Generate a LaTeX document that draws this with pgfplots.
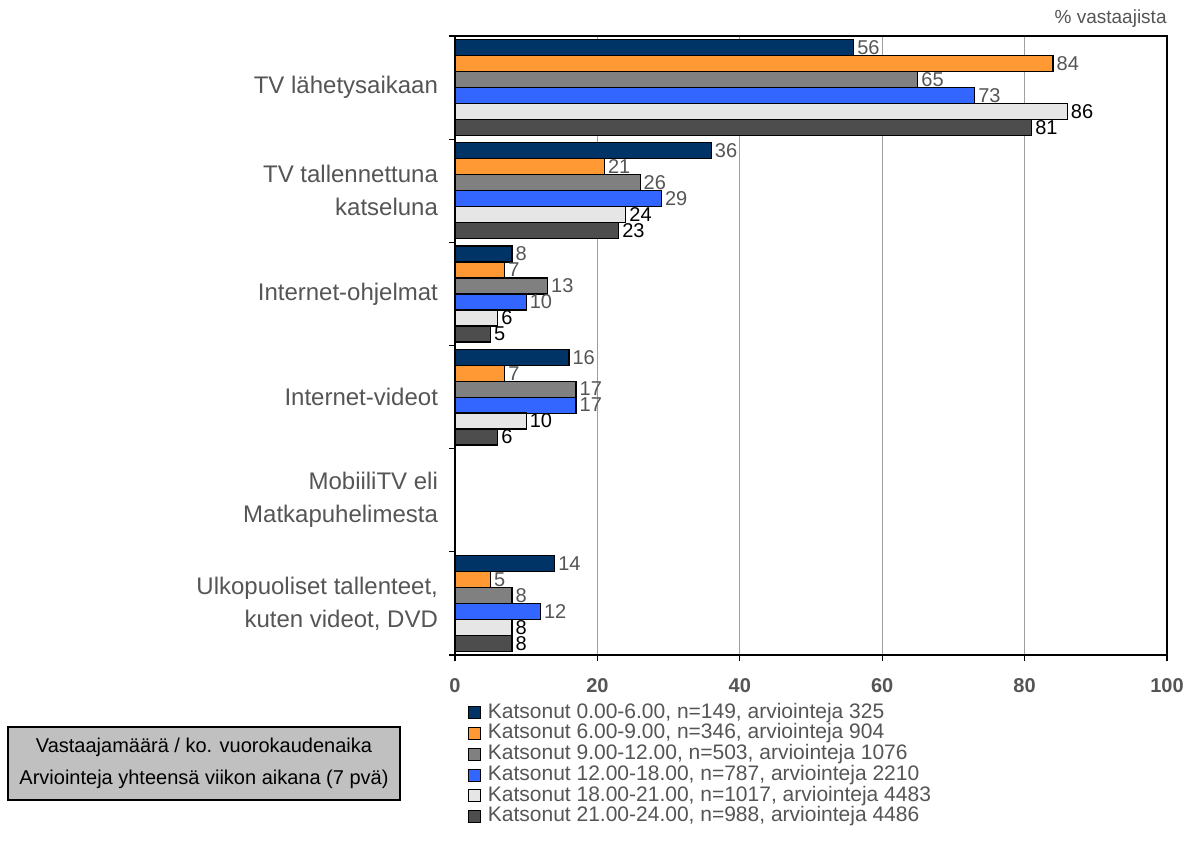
\documentclass[border=0pt]{standalone}
\usepackage{fontspec}
\setmainfont{Liberation Sans}
\usepackage{pgfplots}
\usepackage{pgfplotstable}
\pgfplotsset{compat=1.18}

\definecolor{cNavy}{HTML}{003366}
\definecolor{cOrange}{HTML}{FF9933}
\definecolor{cGray}{HTML}{808080}
\definecolor{cBlue}{HTML}{3366FF}
\definecolor{cLight}{HTML}{E6E6E6}
\definecolor{cDark}{HTML}{4D4D4D}
\definecolor{txt}{HTML}{555555}
\definecolor{boxfill}{HTML}{C0C0C0}

% cat = category row from the top (4 = MobiiliTV, no bars)
\pgfplotstableread{
cat s1 s2 s3 s4 s5 s6
0   56 84 65 73 86 81
1   36 21 26 29 24 23
2   8  7  13 10 6  5
3   16 7  17 17 10 6
5   14 5  8  12 8  8
}\tvdata

\begin{document}
\begin{tikzpicture}
\useasboundingbox (0,0) rectangle (601pt,421.5pt);
\begin{axis}[
  name=ax,
  at={(227.5pt,94pt)}, anchor=south west,
  scale only axis, width=356pt, height=309.5pt,
  xbar, bar width=8pt, bar shift=0pt,
  xmin=0, xmax=100, ymin=-0.5, ymax=5.5, y dir=reverse,
  xtick={0,20,...,100},
  ytick={-0.5,0.5,...,5.5}, yticklabels={},
  extra y ticks={0,1,2,3,4,5},
  extra y tick labels={TV lähetysaikaan, {TV tallennettuna\\katseluna}, Internet-ohjelmat, Internet-videot, {MobiiliTV eli\\Matkapuhelimesta}, {Ulkopuoliset tallenteet,\\kuten videot, DVD}},
  extra y tick style={major tick length=0pt, grid=none},
  yticklabel style={align=right, text=txt, font=\fontsize{12}{16.5}\selectfont, xshift=-5pt},
  xticklabel style={font=\bfseries\fontsize{10}{12}\selectfont, text=txt, yshift=-5pt},
  /pgf/number format/assume math mode=true,
  xtick pos=bottom, ytick pos=left,
  tick align=outside, major tick length=3pt,
  tick style={black, line width=0.6pt},
  xmajorgrids, grid style={color=gray!75, line width=0.6pt},
  axis line style={black, line width=0.8pt},
  point meta=x,
  nodes near coords,
  nodes near coords style={font=\fontsize{10}{12}\selectfont, text=txt, inner sep=1.5pt, anchor=west},
  legend style={at={(0.017,-0.077)}, anchor=north west, draw=none, fill=none, inner sep=0pt,
    font=\fontsize{10.5}{12}\selectfont, text=txt,
    nodes={inner ysep=0pt, inner xsep=1.2pt, text height=7.6pt, text depth=2.25pt},
    row sep=0.5pt, cells={anchor=west}},
  legend image code/.code={\draw[#1, draw=black, line width=0.5pt] (0pt,-3pt) rectangle (6pt,3pt);},
  every axis plot/.append style={draw=black, line width=0.6pt},
]
\addplot[fill=cNavy] table[x=s1, y expr=\thisrow{cat}-0.3875] \tvdata;
\addplot[fill=cOrange] table[x=s2, y expr=\thisrow{cat}-0.2325] \tvdata;
\addplot[fill=cGray] table[x=s3, y expr=\thisrow{cat}-0.0775] \tvdata;
\addplot[fill=cBlue] table[x=s4, y expr=\thisrow{cat}+0.0775] \tvdata;
\addplot[fill=cLight, nodes near coords style={text=black}] table[x=s5, y expr=\thisrow{cat}+0.2325] \tvdata;
\addplot[fill=cDark, nodes near coords style={text=black}] table[x=s6, y expr=\thisrow{cat}+0.3875] \tvdata;
\legend{\hspace{2.5pt}Katsonut 0.00-6.00{,} n=149{,} arviointeja 325,
        \hspace{2.5pt}Katsonut 6.00-9.00{,} n=346{,} arviointeja 904,
        \hspace{2.5pt}Katsonut 9.00-12.00{,} n=503{,} arviointeja 1076,
        \hspace{2.5pt}Katsonut 12.00-18.00{,} n=787{,} arviointeja 2210,
        \hspace{2.5pt}Katsonut 18.00-21.00{,} n=1017{,} arviointeja 4483,
        \hspace{2.5pt}Katsonut 21.00-24.00{,} n=988{,} arviointeja 4486}
\end{axis}
\node[anchor=base east, inner sep=0pt, text=txt, font=\fontsize{9.5}{11}\selectfont]
  at ([yshift=6.5pt]ax.north east) {\% vastaajista};
\draw[fill=boxfill, draw=black, line width=0.6pt] (4pt,21.5pt) rectangle (200pt,58pt);
\node[font=\fontsize{10}{12}\selectfont] at (102pt,48pt) {Vastaajamäärä / ko. vuorokaudenaika};
\node[font=\fontsize{10}{12}\selectfont] at (102pt,32pt) {Arviointeja yhteensä viikon aikana (7 pvä)};
\end{tikzpicture}
\end{document}
